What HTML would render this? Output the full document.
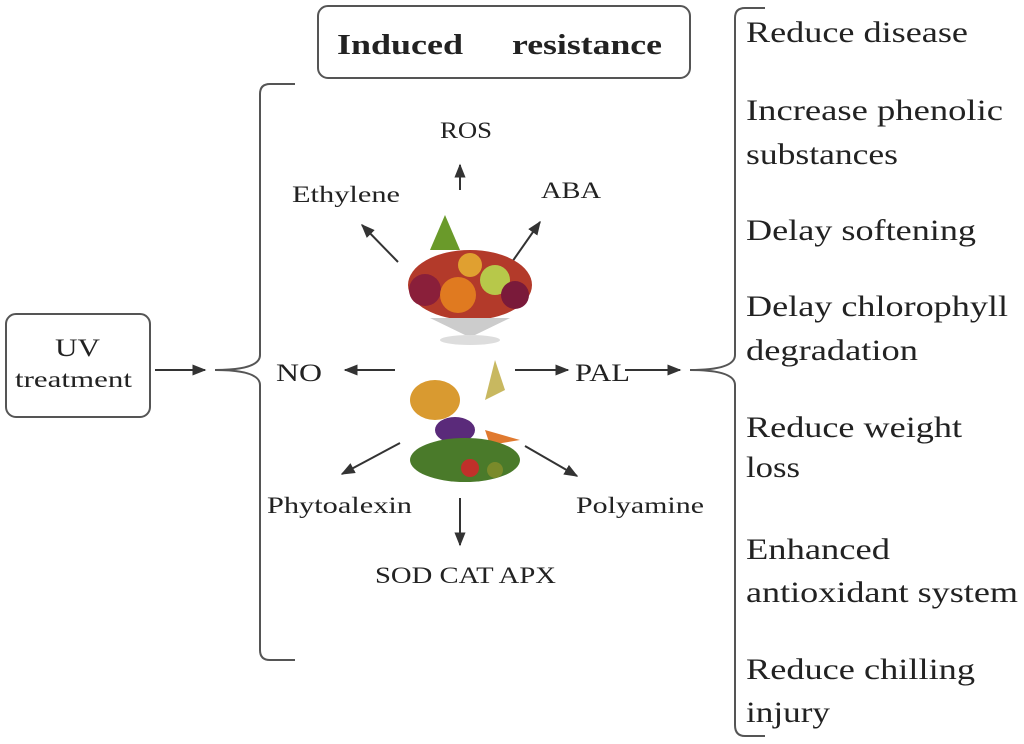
<!DOCTYPE html>
<html><head><meta charset="utf-8"><style>
html,body{margin:0;padding:0;background:#fff;width:1024px;height:744px;overflow:hidden}
svg text{font-family:"Liberation Serif",serif;fill:#222}
</style></head><body>
<svg width="1024" height="744" viewBox="0 0 1024 744" xmlns="http://www.w3.org/2000/svg">
<defs><marker id="a" viewBox="0 0 10 10" refX="9" refY="5" markerWidth="7" markerHeight="7" orient="auto"><path d="M0,1 L10,5 L0,9 z" fill="#333"/></marker></defs>
<g stroke="#555" stroke-width="2" fill="none">
<rect x="6" y="314" width="144" height="103" rx="10"/>
<rect x="318" y="6" width="372" height="72" rx="10"/>
<path d="M295,84 L270,84 Q260,84 260,94 L260,355 Q260,370 215,370 Q260,370 260,385 L260,650 Q260,660 270,660 L295,660"/>
<path d="M765,8 L745,8 Q735,8 735,18 L735,355 Q735,370 690,370 Q735,370 735,385 L735,725 Q735,736 745,736 L765,736"/>
</g>
<g stroke="#333" stroke-width="2" marker-end="url(#a)">
<line x1="155" y1="370" x2="205" y2="370"/>
<line x1="460" y1="190" x2="460" y2="165"/>
<line x1="398" y1="262" x2="362" y2="225"/>
<line x1="512" y1="262" x2="540" y2="222"/>
<line x1="395" y1="370" x2="345" y2="370"/>
<line x1="515" y1="370" x2="568" y2="370"/>
<line x1="625" y1="370" x2="680" y2="370"/>
<line x1="400" y1="443" x2="342" y2="474"/>
<line x1="525" y1="446" x2="577" y2="476"/>
<line x1="460" y1="498" x2="460" y2="545"/>
</g>
<g>
<path d="M430,250 L445,215 L460,250 z" fill="#6a9a2a"/>
<ellipse cx="470" cy="285" rx="62" ry="35" fill="#b33a2a"/>
<circle cx="425" cy="290" r="16" fill="#8a1f3a"/>
<circle cx="458" cy="295" r="18" fill="#e07a20"/>
<circle cx="495" cy="280" r="15" fill="#b7c84a"/>
<circle cx="515" cy="295" r="14" fill="#7a1a3a"/>
<circle cx="470" cy="265" r="12" fill="#e0a030"/>
<path d="M430,318 L510,318 L475,335 L465,335 z" fill="#ccc"/>
<ellipse cx="470" cy="340" rx="30" ry="5" fill="#ddd"/>
</g>
<g>
<ellipse cx="435" cy="400" rx="25" ry="20" fill="#d99a30"/>
<path d="M495,360 L505,390 L485,400 z" fill="#c8b860"/>
<ellipse cx="455" cy="430" rx="20" ry="13" fill="#5a2a7a"/>
<path d="M485,430 L520,440 L490,445 z" fill="#e07a30"/>
<ellipse cx="465" cy="460" rx="55" ry="22" fill="#4a7a2a"/>
<circle cx="470" cy="468" r="9" fill="#c0302a"/>
<circle cx="495" cy="470" r="8" fill="#7a8a2a"/>
</g>
<g lengthAdjust="spacingAndGlyphs">
<text x="55" y="356" font-size="25" textLength="45" lengthAdjust="spacingAndGlyphs">UV</text>
<text x="15" y="387" font-size="23" textLength="117" lengthAdjust="spacingAndGlyphs">treatment</text>
<text x="337" y="54" font-size="29" font-weight="bold" textLength="126" lengthAdjust="spacingAndGlyphs">Induced</text>
<text x="512" y="54" font-size="29" font-weight="bold" textLength="150" lengthAdjust="spacingAndGlyphs">resistance</text>
</g>
<g font-size="23">
<text x="440" y="138" textLength="52" lengthAdjust="spacingAndGlyphs">ROS</text>
<text x="292" y="202" textLength="108" lengthAdjust="spacingAndGlyphs">Ethylene</text>
<text x="541" y="198" textLength="60" lengthAdjust="spacingAndGlyphs">ABA</text>
<text x="276" y="381" font-size="25" textLength="46" lengthAdjust="spacingAndGlyphs">NO</text>
<text x="575" y="381" font-size="25" textLength="55" lengthAdjust="spacingAndGlyphs">PAL</text>
<text x="267" y="513" textLength="145" lengthAdjust="spacingAndGlyphs">Phytoalexin</text>
<text x="576" y="513" textLength="128" lengthAdjust="spacingAndGlyphs">Polyamine</text>
<text x="375" y="583" textLength="181" lengthAdjust="spacingAndGlyphs">SOD CAT APX</text>
</g>
<g font-size="30">
<text x="746" y="42" textLength="222" lengthAdjust="spacingAndGlyphs">Reduce disease</text>
<text x="746" y="120" textLength="257" lengthAdjust="spacingAndGlyphs">Increase phenolic</text>
<text x="746" y="164" textLength="152" lengthAdjust="spacingAndGlyphs">substances</text>
<text x="746" y="240" textLength="230" lengthAdjust="spacingAndGlyphs">Delay softening</text>
<text x="746" y="316" textLength="262" lengthAdjust="spacingAndGlyphs">Delay chlorophyll</text>
<text x="746" y="360" textLength="172" lengthAdjust="spacingAndGlyphs">degradation</text>
<text x="746" y="437" textLength="216" lengthAdjust="spacingAndGlyphs">Reduce weight</text>
<text x="746" y="477" textLength="54" lengthAdjust="spacingAndGlyphs">loss</text>
<text x="746" y="559" textLength="144" lengthAdjust="spacingAndGlyphs">Enhanced</text>
<text x="746" y="602" textLength="272" lengthAdjust="spacingAndGlyphs">antioxidant system</text>
<text x="746" y="679" textLength="229" lengthAdjust="spacingAndGlyphs">Reduce chilling</text>
<text x="746" y="722" textLength="84" lengthAdjust="spacingAndGlyphs">injury</text>
</g>
</svg>
</body></html>
